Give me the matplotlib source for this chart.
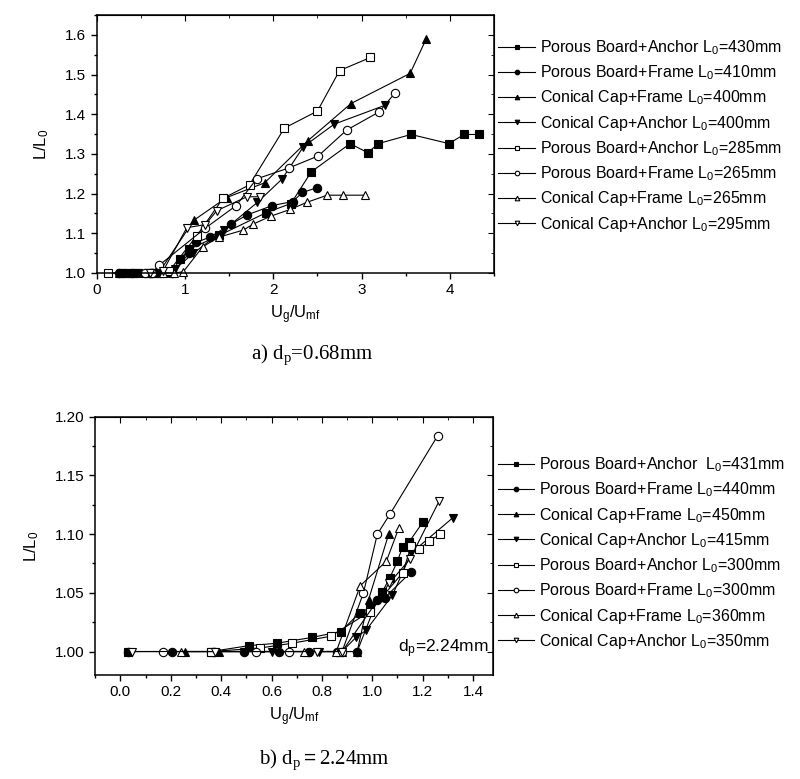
import matplotlib
matplotlib.use('Agg')
import matplotlib.pyplot as plt
from matplotlib.ticker import MultipleLocator, NullFormatter

plt.rcParams['font.family'] = ['Liberation Sans', 'DejaVu Sans']
plt.rcParams['mathtext.fontset'] = 'custom'
plt.rcParams['mathtext.rm'] = 'Liberation Sans'
plt.rcParams['mathtext.it'] = 'Liberation Sans:italic'

# ---- a) dp = 0.68mm ----
labels_a = ['Porous Board+Anchor L$_0$=430mm', 'Porous Board+Frame L$_0$=410mm',
            'Conical Cap+Frame L$_0$=400mm', 'Conical Cap+Anchor L$_0$=400mm',
            'Porous Board+Anchor L$_0$=285mm', 'Porous Board+Frame L$_0$=265mm',
            'Conical Cap+Frame L$_0$=265mm', 'Conical Cap+Anchor L$_0$=295mm']

x_a1 = [0.27, 0.33, 0.40, 0.47, 0.62, 0.72, 0.85, 0.94, 1.05, 1.39, 1.92, 2.20, 2.43, 2.87, 3.07, 3.19, 3.56, 3.99, 4.16, 4.33]
y_a1 = [1.0, 1.0, 1.0, 1.0, 1.0, 1.0, 1.0, 1.035, 1.06, 1.095, 1.152, 1.175, 1.255, 1.326, 1.303, 1.326, 1.349, 1.326, 1.349, 1.349]
x_a2 = [0.25, 0.40, 0.60, 0.85, 1.05, 1.125, 1.28, 1.52, 1.70, 1.99, 2.22, 2.33, 2.50]
y_a2 = [1.0, 1.0, 1.0, 1.0, 1.05, 1.077, 1.09, 1.123, 1.146, 1.17, 1.18, 1.203, 1.215]
x_a3 = [0.25, 0.32, 0.42, 0.55, 0.70, 1.10, 1.47, 1.90, 2.39, 2.88, 3.55, 3.73]
y_a3 = [1.0, 1.0, 1.0, 1.0, 1.0, 1.133, 1.19, 1.227, 1.333, 1.427, 1.503, 1.589]
x_a4 = [0.30, 0.45, 0.65, 0.80, 0.89, 1.095, 1.44, 1.82, 2.10, 2.34, 2.69, 3.27]
y_a4 = [1.0, 1.0, 1.0, 1.0, 1.01, 1.05, 1.108, 1.178, 1.237, 1.318, 1.375, 1.423]
x_a5 = [0.125, 0.60, 0.82, 1.13, 1.43, 1.73, 2.125, 2.50, 2.75, 3.10]
y_a5 = [1.0, 1.0, 1.005, 1.093, 1.188, 1.222, 1.365, 1.408, 1.51, 1.543]
x_a6 = [0.55, 0.62, 0.71, 1.23, 1.58, 1.81, 2.18, 2.51, 2.83, 3.20, 3.38]
y_a6 = [1.0, 1.0, 1.02, 1.113, 1.17, 1.237, 1.265, 1.295, 1.36, 1.406, 1.454]
x_a7 = [0.75, 0.88, 0.98, 1.20, 1.38, 1.66, 1.77, 1.97, 2.19, 2.38, 2.61, 2.79, 3.04]
y_a7 = [1.0, 1.0, 1.003, 1.066, 1.09, 1.108, 1.123, 1.143, 1.16, 1.178, 1.196, 1.196, 1.196]
x_a8 = [0.60, 0.75, 1.02, 1.23, 1.36, 1.70, 1.85]
y_a8 = [1.0, 1.005, 1.114, 1.122, 1.157, 1.192, 1.192]

# ---- b) dp = 2.24mm ----
labels_b = ['Porous Board+Anchor  L$_0$=431mm', 'Porous Board+Frame L$_0$=440mm',
            'Conical Cap+Frame L$_0$=450mm', 'Conical Cap+Anchor L$_0$=415mm',
            'Porous Board+Anchor L$_0$=300mm', 'Porous Board+Frame L$_0$=300mm',
            'Conical Cap+Frame L$_0$=360mm', 'Conical Cap+Anchor L$_0$=350mm']

x_b1 = [0.03, 0.36, 0.51, 0.62, 0.76, 0.875, 0.95, 0.99, 1.04, 1.07, 1.10, 1.12, 1.145, 1.20]
y_b1 = [1.0, 1.0, 1.005, 1.007, 1.012, 1.017, 1.033, 1.037, 1.051, 1.063, 1.077, 1.089, 1.093, 1.110]
x_b2 = [0.03, 0.205, 0.37, 0.49, 0.63, 0.75, 0.86, 0.94, 1.02, 1.05, 1.155]
y_b2 = [1.0, 1.0, 1.0, 1.0, 1.0, 1.0, 1.0, 1.0, 1.044, 1.046, 1.068]
x_b3 = [0.255, 0.39, 0.74, 0.88, 0.94, 0.985, 1.065]
y_b3 = [1.0, 1.0, 1.0, 1.0, 1.0, 1.044, 1.10]
x_b4 = [0.37, 0.49, 0.60, 0.79, 0.88, 0.935, 0.975, 1.08, 1.155, 1.32]
y_b4 = [1.0, 1.0, 1.0, 1.0, 1.0, 1.012, 1.018, 1.048, 1.084, 1.114]
x_b5 = [0.36, 0.555, 0.68, 0.835, 0.99, 1.12, 1.155, 1.185, 1.225, 1.27]
y_b5 = [1.0, 1.003, 1.007, 1.013, 1.034, 1.067, 1.090, 1.087, 1.094, 1.10]
x_b6 = [0.17, 0.54, 0.67, 0.88, 0.965, 1.02, 1.07, 1.26]
y_b6 = [1.0, 1.0, 1.0, 1.0, 1.05, 1.10, 1.117, 1.184]
x_b7 = [0.24, 0.73, 0.857, 0.952, 1.056, 1.105]
y_b7 = [1.0, 1.0, 1.0, 1.056, 1.077, 1.105]
x_b8 = [0.047, 0.375, 0.78, 0.88, 1.067, 1.15, 1.265]
y_b8 = [1.0, 1.0, 1.0, 1.0, 1.058, 1.079, 1.128]

markers = ['s', 'o', '^', 'v', 's', 'o', '^', 'v']
fills = ['black'] * 4 + ['white'] * 4

fig = plt.figure(figsize=(8, 7.79), dpi=100)


def style_axes(ax, xmaj, xmin, ymaj, ymin):
    ax.xaxis.set_major_locator(MultipleLocator(xmaj))
    ax.xaxis.set_minor_locator(MultipleLocator(xmin))
    ax.yaxis.set_major_locator(MultipleLocator(ymaj))
    ax.yaxis.set_minor_locator(MultipleLocator(ymin))
    ax.tick_params(which='both', direction='out', labelsize=11, width=1)
    ax.tick_params(which='major', length=4)
    ax.tick_params(which='minor', length=2.5)
    for s in ax.spines.values():
        s.set_linewidth(1.1)
    top = ax.secondary_xaxis('top')
    top.xaxis.set_major_locator(MultipleLocator(xmaj))
    top.xaxis.set_minor_locator(MultipleLocator(xmin))
    top.xaxis.set_major_formatter(NullFormatter())
    top.tick_params(which='both', direction='in')
    top.tick_params(which='major', length=4)
    top.tick_params(which='minor', length=2.5)
    right = ax.secondary_yaxis('right')
    right.yaxis.set_major_locator(MultipleLocator(ymaj))
    right.yaxis.set_minor_locator(MultipleLocator(ymin))
    right.yaxis.set_major_formatter(NullFormatter())
    right.tick_params(which='both', direction='in')
    right.tick_params(which='major', length=4)
    right.tick_params(which='minor', length=2.5)


def draw_panel(ax, xs, ys, labels, legend_y):
    for i in range(8):
        ax.plot(xs[i], ys[i], color='black', lw=0.8, marker=markers[i],
                ms=6, mfc=fills[i], mec='black', mew=0.8, label=labels[i],
                clip_on=False)
    ax.legend(loc='upper left', bbox_to_anchor=(0.995, legend_y), frameon=False,
              fontsize=11.5, markerscale=0.55, handlelength=2.3,
              handletextpad=0.3, borderaxespad=0, labelspacing=0.4)
    ax.set_ylabel(r'$\mathregular{L/L_0}$', fontsize=12, labelpad=10)
    ax.set_xlabel(r'$\mathregular{U_g/U_{mf}}$', fontsize=12)


ax1 = fig.add_axes([0.121, 0.6496, 0.4965, 0.3311])
draw_panel(ax1,
           [x_a1, x_a2, x_a3, x_a4, x_a5, x_a6, x_a7, x_a8],
           [y_a1, y_a2, y_a3, y_a4, y_a5, y_a6, y_a7, y_a8],
           labels_a, 0.935)
ax1.set_xlim(0, 4.5)
ax1.set_ylim(1.0, 1.65)
style_axes(ax1, 1, 0.5, 0.1, 0.05)

ax2 = fig.add_axes([0.119, 0.1335, 0.4975, 0.3315])
draw_panel(ax2,
           [x_b1, x_b2, x_b3, x_b4, x_b5, x_b6, x_b7, x_b8],
           [y_b1, y_b2, y_b3, y_b4, y_b5, y_b6, y_b7, y_b8],
           labels_b, 0.875)
ax2.set_xlim(-0.1, 1.48)
ax2.set_ylim(0.98, 1.20)
style_axes(ax2, 0.2, 0.1, 0.05, 0.025)
ax2.yaxis.set_major_formatter(plt.FormatStrFormatter('%.2f'))
ax2.text(0.99, 0.1, r'$\mathregular{d_p}$=2.24mm', transform=ax2.transAxes,
         ha='right', va='center', fontsize=12.5)

fig.text(0.39, 0.545, r'a) $\mathregular{d_p}$=0.68mm', family='Liberation Serif',
         fontsize=15, ha='center', va='center')
fig.text(0.405, 0.025, r'b) $\mathregular{d_p}$$=$2.24mm', family='Liberation Serif',
         fontsize=15, ha='center', va='center')

fig.savefig('out.png', dpi=100)
